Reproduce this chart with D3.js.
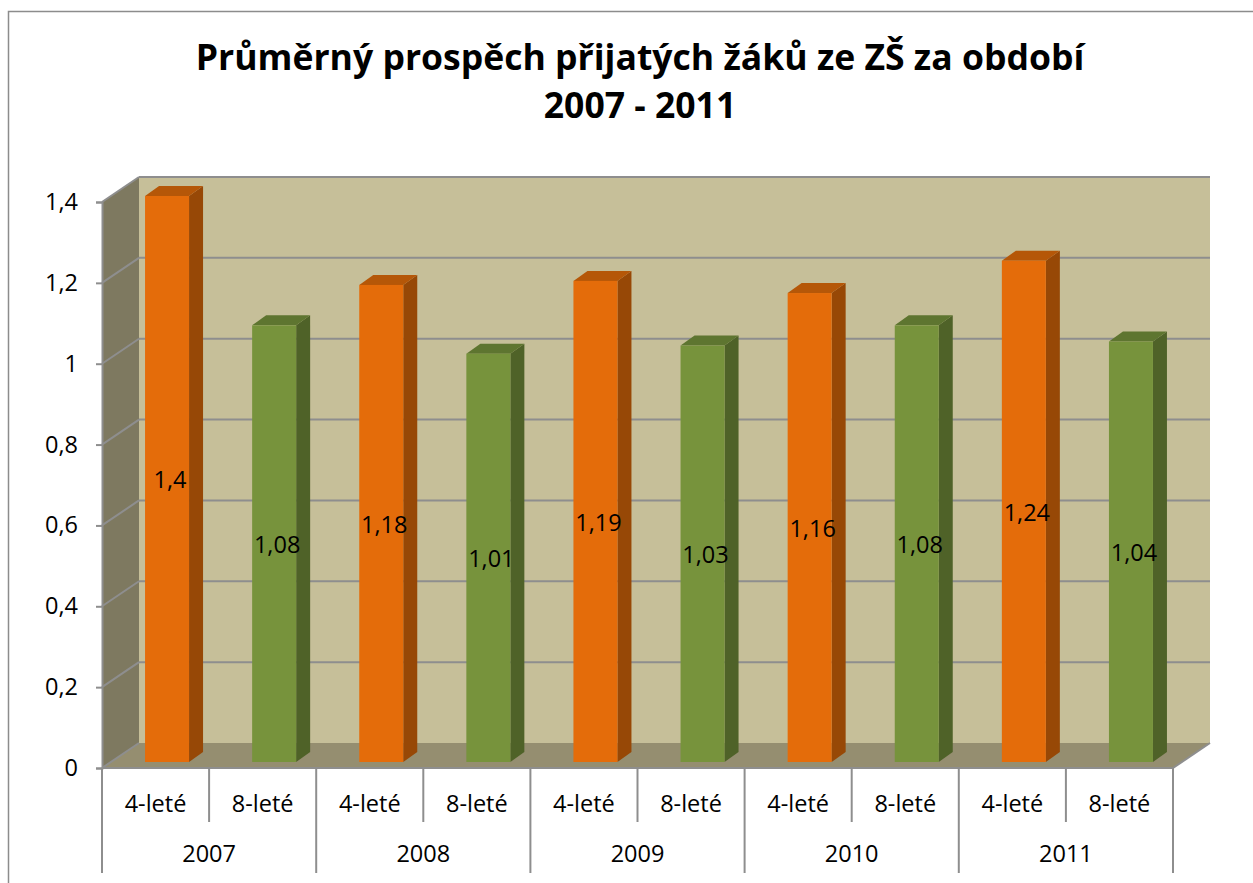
<!DOCTYPE html>
<html>
<head>
<meta charset="utf-8">
<script src="https://cdn.jsdelivr.net/npm/d3@7"></script>
<style>
  html, body { margin: 0; padding: 0; background: #fff; }
  svg { display: block; font-family: "Open Sans", Lato, "Liberation Sans", sans-serif; }
</style>
</head>
<body>
<svg id="chart" width="1253" height="883"></svg>
<script>
// data
const years = ['2007', '2008', '2009', '2010', '2011'];
const types = ['4-leté', '8-leté'];
const values4 = [1.4, 1.18, 1.19, 1.16, 1.24];
const values8 = [1.08, 1.01, 1.03, 1.08, 1.04];
const yTicks = [0, 0.2, 0.4, 0.6, 0.8, 1, 1.2, 1.4];
const titleLines = ['Průměrný prospěch přijatých žáků ze ZŠ za období', '2007 - 2011'];

const svg = d3.select('#chart');
const labelSize = 23.5;

// flat list of bars, one per category cell
const bars = [];
years.forEach(function(yr, i) {
  bars.push({ year: yr, type: types[0], value: values4[i], series: 0 });
  bars.push({ year: yr, type: types[1], value: values8[i], series: 1 });
});

// geometry of the fake 3d box
const dims = {
  left: 102, right: 1173, base: 768, plotH: 566,
  depthX: 37, depthY: 25,
  barShiftX: 11.5, barShiftY: 6,
  barW: 44, barDX: 14, barDY: 10
};

const colors = [
  { front: '#E46C0A', side: '#974806', top: '#B55708' },
  { front: '#77933C', side: '#4F6228', top: '#5E7530' }
];

const x = d3.scaleBand()
  .domain(d3.range(bars.length))
  .range([dims.left, dims.right]);

// height scale, shared by all planes; each plane adds its own offset
const y = d3.scaleLinear()
  .domain([0, 1.4])
  .range([dims.base, dims.base - dims.plotH]);

const yBack = function(v) { return y(v) - dims.depthY; };
const xBackL = dims.left + dims.depthX;
const xBackR = dims.right + dims.depthX;

// outer chart border
svg.append('rect')
  .attr('x', 8.5).attr('y', 11.5)
  .attr('width', 1260).attr('height', 900)
  .attr('fill', 'none').attr('stroke', '#8c8c8c').attr('stroke-width', 1.5);

// title, sized so the first line spans the same width as the original
const titleG = svg.append('g');
const titleText = titleG.selectAll('text')
  .data(titleLines)
  .enter()
  .append('text')
  .attr('x', 640)
  .attr('y', function(d, i) { return 70 + i * 48; })
  .attr('text-anchor', 'middle')
  .attr('font-size', 33)
  .attr('font-weight', 'bold')
  .attr('fill', '#000')
  .text(function(d) { return d; });
const w0 = titleText.node().getComputedTextLength();
if (w0 > 0) titleText.attr('font-size', 33 * 889 / w0);

// walls
const walls = svg.append('g');
walls.append('polygon')
  .attr('points', [[xBackL, yBack(1.4)], [xBackR, yBack(1.4)], [xBackR, yBack(0)], [xBackL, yBack(0)]].join(' '))
  .attr('fill', '#C6BF99');
walls.append('polygon')
  .attr('points', [[dims.left, y(1.4)], [xBackL, yBack(1.4)], [xBackL, yBack(0)], [dims.left, y(0)]].join(' '))
  .attr('fill', '#7E7960');
walls.append('polygon')
  .attr('points', [[dims.left, y(0)], [xBackL, yBack(0)], [xBackR, yBack(0)], [dims.right, y(0)]].join(' '))
  .attr('fill', '#958E70');

// gridlines on back wall and the diagonals on the side wall
const grid = svg.append('g').attr('stroke', '#8e8e8e').attr('stroke-width', 2);
grid.selectAll('.grid-back')
  .data(yTicks.filter(function(d) { return d > 0; }))
  .enter()
  .append('line')
  .attr('class', 'grid-back')
  .attr('x1', xBackL).attr('x2', xBackR)
  .attr('y1', function(d) { return yBack(d); })
  .attr('y2', function(d) { return yBack(d); });
grid.selectAll('.grid-side')
  .data(yTicks)
  .enter()
  .append('line')
  .attr('class', 'grid-side')
  .attr('x1', dims.left).attr('x2', xBackL)
  .attr('y1', function(d) { return y(d); })
  .attr('y2', function(d) { return yBack(d); });
// floor front and right edge
grid.append('line')
  .attr('x1', dims.left).attr('x2', dims.right)
  .attr('y1', y(0)).attr('y2', y(0));
grid.append('line')
  .attr('x1', dims.right).attr('x2', xBackR)
  .attr('y1', y(0)).attr('y2', yBack(0));

// y axis
const yAxis = d3.axisLeft(y)
  .tickValues(yTicks)
  .tickSize(6)
  .tickPadding(18)
  .tickFormat(function(d) { return String(d).replace('.', ','); });

const yAxisG = svg.append('g')
  .attr('class', 'axis axis-y')
  .attr('transform', 'translate(' + dims.left + ',0)')
  .call(yAxis);
yAxisG.attr('font-family', null).attr('font-size', null);
yAxisG.select('.domain').attr('stroke', '#8e8e8e').attr('stroke-width', 2);
yAxisG.selectAll('.tick line').attr('stroke', '#8e8e8e').attr('stroke-width', 2);
yAxisG.selectAll('.tick text')
  .attr('font-size', labelSize)
  .attr('fill', '#000');

// bars: front, side, top faces
const barG = svg.append('g')
  .selectAll('.bar')
  .data(bars)
  .enter()
  .append('g')
  .attr('class', 'bar');

function bx(i) { return x(i) + (x.bandwidth() - dims.barW) / 2 + dims.barShiftX; }
function by(v) { return y(v) - dims.barShiftY; }

barG.append('polygon')
  .attr('points', function(d, i) {
    const x0 = bx(i) + dims.barW;
    return [[x0, by(d.value)], [x0 + dims.barDX, by(d.value) - dims.barDY],
            [x0 + dims.barDX, by(0) - dims.barDY], [x0, by(0)]].join(' ');
  })
  .attr('fill', function(d) { return colors[d.series].side; });
barG.append('polygon')
  .attr('points', function(d, i) {
    const x0 = bx(i), yt = by(d.value);
    return [[x0, yt], [x0 + dims.barDX, yt - dims.barDY],
            [x0 + dims.barW + dims.barDX, yt - dims.barDY], [x0 + dims.barW, yt]].join(' ');
  })
  .attr('fill', function(d) { return colors[d.series].top; });
barG.append('rect')
  .attr('x', function(d, i) { return bx(i); })
  .attr('y', function(d) { return by(d.value); })
  .attr('width', dims.barW)
  .attr('height', function(d) { return by(0) - by(d.value); })
  .attr('fill', function(d) { return colors[d.series].front; });

// value labels in the middle of each bar
barG.append('text')
  .attr('x', function(d, i) { return bx(i) + dims.barW / 2 + 3; })
  .attr('y', function(d) { return (by(d.value) + by(0)) / 2 + 3; })
  .attr('text-anchor', 'middle')
  .attr('dominant-baseline', 'middle')
  .attr('font-size', labelSize)
  .attr('fill', '#000')
  .text(function(d) { return String(d.value).replace('.', ','); });

// category axis: two rows of labels with separators
const cat = svg.append('g').attr('class', 'axis axis-x');
cat.selectAll('.sep')
  .data(d3.range(bars.length + 1))
  .enter()
  .append('line')
  .attr('class', 'sep')
  .attr('x1', function(i) { return dims.left + i * x.step(); })
  .attr('x2', function(i) { return dims.left + i * x.step(); })
  .attr('y1', y(0))
  .attr('y2', function(i) { return i % 2 === 0 ? 873 : 822; })
  .attr('stroke', '#8e8e8e')
  .attr('stroke-width', 2);
cat.selectAll('.sub')
  .data(bars)
  .enter()
  .append('text')
  .attr('class', 'sub')
  .attr('x', function(d, i) { return x(i) + x.bandwidth() / 2; })
  .attr('y', 806)
  .attr('text-anchor', 'middle')
  .attr('dominant-baseline', 'middle')
  .attr('font-size', labelSize)
  .text(function(d) { return d.type; });
cat.selectAll('.grp')
  .data(years)
  .enter()
  .append('text')
  .attr('class', 'grp')
  .attr('x', function(d, i) { return x(i * 2) + x.step(); })
  .attr('y', 856)
  .attr('text-anchor', 'middle')
  .attr('dominant-baseline', 'middle')
  .attr('font-size', labelSize)
  .text(function(d) { return d; });
</script>
</body>
</html>
